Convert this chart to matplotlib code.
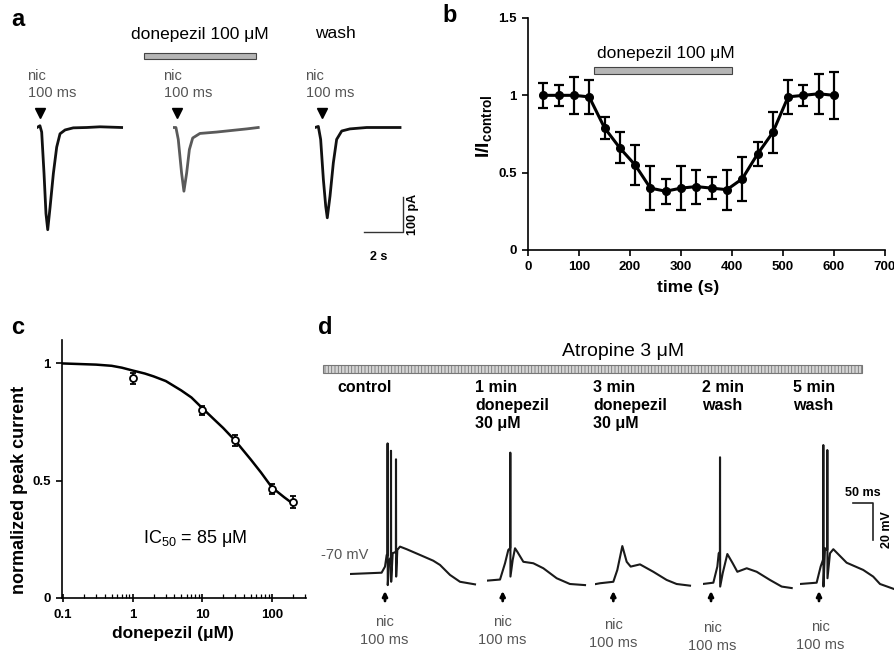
import matplotlib
matplotlib.use('Agg')
import matplotlib.pyplot as plt
import matplotlib.transforms as mtransforms
from matplotlib.patches import Rectangle

plt.rcParams['font.family'] = ['Liberation Sans', 'DejaVu Sans']
plt.rcParams['mathtext.fontset'] = 'custom'
plt.rcParams['mathtext.rm'] = 'Liberation Sans'
plt.rcParams['mathtext.bf'] = 'Liberation Sans:bold'
plt.rcParams['hatch.linewidth'] = 0.6
plt.rcParams['hatch.color'] = '#8a8a8a'

TICKFONT = ['Liberation Sans Narrow', 'Liberation Sans', 'DejaVu Sans']

# ---- panel a : nicotine-evoked currents (s, pA) ----
ctrl_a_t = [0, 0.15, 0.24, 0.36, 0.46, 0.55, 0.67, 0.84, 1.01, 1.18, 1.44, 1.86, 2.55, 3.23, 4.34]
ctrl_a_i = [0, 5, -13, -131, -246, -292, -228, -131, -56, -18, -7, -1, 0, 2, 0]
don_a_t = [0, 0.15, 0.27, 0.44, 0.56, 0.70, 0.84, 1.01, 1.38, 2.24, 3.09, 3.78, 4.37]
don_a_i = [0, 0, -34, -130, -182, -130, -63, -30, -17, -13, -8, -4, 0]
wash_a_t = [0, 0.17, 0.29, 0.43, 0.55, 0.63, 0.77, 0.94, 1.11, 1.37, 1.79, 2.65, 4.36]
wash_a_i = [0, 3, -34, -149, -225, -258, -196, -101, -34, -10, -4, 0, 0]
stim_a_s = [0.15, 0.2, 0.36]

# ---- panel b : time course ----
time_s = [30, 60, 90, 120, 150, 180, 210, 240, 270, 300,
          330, 360, 390, 420, 450, 480, 510, 540, 570, 600]
rel_current = [1.0, 1.0, 1.0, 0.99, 0.79, 0.66, 0.55, 0.40, 0.38, 0.40,
               0.41, 0.40, 0.39, 0.46, 0.62, 0.76, 0.99, 1.0, 1.01, 1.0]
rel_err = [0.08, 0.07, 0.12, 0.11, 0.07, 0.10, 0.13, 0.14, 0.08, 0.14,
           0.11, 0.07, 0.13, 0.14, 0.08, 0.13, 0.11, 0.07, 0.13, 0.15]
drug_on_s, drug_off_s = 130, 400

# ---- panel c : concentration-response ----
conc_uM = [1, 10, 30, 100, 200]
norm_peak = [0.936, 0.80, 0.672, 0.464, 0.41]
norm_err = [0.025, 0.02, 0.025, 0.02, 0.025]
fit_conc = [0.1, 0.3, 0.5, 0.7, 1, 1.5, 2, 3, 5, 7, 10, 15, 20, 30, 50, 70, 100, 150, 205]
fit_norm = [1.0, 0.995, 0.99, 0.982, 0.97, 0.957, 0.945, 0.925, 0.885, 0.855,
            0.81, 0.76, 0.725, 0.67, 0.59, 0.535, 0.472, 0.43, 0.40]

# ---- panel d : membrane potential (ms, mV) ----
ctrl_d_t = [0, 79, 87.5, 91.7, 93.7, 94, 94.4, 98.3, 102.2, 102.5, 102.9, 106.7,
            114.7, 115, 115.4, 118.3, 125, 141.7, 175, 208, 225, 250, 275, 312.5]
ctrl_d_v = [-70, -69.3, -66, -59.7, -60, 0.6, -76, -62.4, -61, -3.4, -74.2, -58.8,
            -58, -8, -71.4, -57, -55.2, -56.6, -59.7, -62.8, -65.1, -70.5, -74.2, -75.6]
don1_t = [0, 33.3, 45.8, 54, 58.7, 59, 59.4, 65, 70.8, 76.6, 91.6, 116.6, 141.6, 175, 208, 245.8]
don1_v = [-73.6, -73.0, -64.2, -57, -56, -4.4, -71.4, -62.4, -56.1, -58, -63.4, -64.2,
          -66.9, -72.3, -75.4, -76]
don3_t = [0, 12.5, 45.8, 55.8, 68.3, 79.2, 89.2, 112.5, 145.8, 179, 204, 237.5]
don3_v = [-75.5, -75, -74.2, -67.8, -54.9, -63.4, -66, -64.8, -68.8, -73.2, -75.4, -76.3]
wash2_t = [0, 26.6, 36.6, 40, 43, 43.3, 43.7, 50, 61.6, 75, 86.6, 110, 135, 168, 197.5, 222.5]
wash2_v = [-75.4, -74.7, -66, -58.8, -58, -6.9, -76.8, -69.6, -59.2, -64.2, -68.8,
           -66.9, -68.8, -73.2, -76.8, -77.6]
wash5_t = [0, 41.6, 51.6, 58, 58.3, 58.7, 62.5, 68, 68.3, 68.7, 75, 83.3, 116.6,
           158, 183, 200, 237.5]
wash5_v = [-75.4, -74.7, -66, -62, -0.3, -76.8, -56.1, -57, -3, -72.3, -58.8, -56.6,
           -63.9, -67.8, -71.4, -75.4, -78.3]
stim_d_ms = [87.5, 40, 45.8, 20.8, 47.5]
d_titles = ['control', '1 min\ndonepezil\n30 μM', '3 min\ndonepezil\n30 μM',
            '2 min\nwash', '5 min\nwash']

W, H = 895, 654
fig = plt.figure(figsize=(W / 100, H / 100), dpi=100)


def px_axes(x0, y0, x1, y1):
    return fig.add_axes([x0 / W, 1 - y1 / H, (x1 - x0) / W, (y1 - y0) / H])


def ftext(x, y, s, **kw):
    kw.setdefault('ha', 'center')
    kw.setdefault('va', 'center')
    return fig.text(x / W, 1 - y / H, s, **kw)


def fig_bar(x0, y0, x1, y1, **kw):
    r = Rectangle((x0 / W, 1 - y1 / H), (x1 - x0) / W, (y1 - y0) / H,
                  transform=fig.transFigure, **kw)
    fig.add_artist(r)


def tick_font(ax, size):
    for lbl in ax.get_xticklabels() + ax.get_yticklabels():
        lbl.set_fontfamily(TICKFONT)
        lbl.set_fontweight('bold')
        lbl.set_fontsize(size)


# panel letters
for x, y, s in [(18, 19, 'a'), (450, 15, 'b'), (18, 327, 'c'), (325, 327, 'd')]:
    ftext(x, y, s, fontsize=17, fontweight='bold')

# ================= panel a =================
px_per_s, px_per_pA = 19.5, 0.35
a_top, a_bot, a_base = 100, 240, 127.5
a_traces = [(ctrl_a_t, ctrl_a_i, 37, '#111111'),
            (don_a_t, don_a_i, 173, '#5a5a5a'),
            (wash_a_t, wash_a_i, 315, '#111111')]
for (t, i, x0, col), st in zip(a_traces, stim_a_s):
    ax = px_axes(x0, a_top, x0 + 92, a_bot)
    ax.plot(t, i, color=col, lw=2.0, solid_joinstyle='round')
    ax.set_xlim(0, 92 / px_per_s)
    ax.set_ylim(-(a_bot - a_base) / px_per_pA, (a_base - a_top) / px_per_pA)
    ax.axis('off')
    tr = mtransforms.blended_transform_factory(ax.transData, ax.transAxes)
    ax.plot([st], [(a_bot - 113) / (a_bot - a_top)], marker='v', ms=7,
            color='black', transform=tr, clip_on=False)
    ftext(x0 - 10, 76, 'nic', ha='left', fontsize=10.5, color='#555555')
    ftext(x0 - 9, 93, '100 ms', ha='left', fontsize=10.5, color='#555555')

ftext(200, 34, 'donepezil 100 μM', fontsize=12.5)
ftext(335, 34, 'wash', fontsize=12.5)
fig_bar(144, 53, 256, 59, facecolor='#b5b5b5', edgecolor='#444444', lw=0.8)

sb = px_axes(364, 197, 403, 232)
sb.plot([0, 2, 2], [0, 0, 100], color='#333333', lw=1.0, clip_on=False)
sb.set_xlim(0, 2)
sb.set_ylim(0, 100)
sb.axis('off')
ftext(379, 257, '2 s', fontsize=9, fontweight='bold', family=TICKFONT)
ftext(413, 214, '100 pA', fontsize=9, fontweight='bold', rotation=90, family=TICKFONT)

# ================= panel b =================
axb = px_axes(528, 18, 885, 250)
axb.errorbar(time_s, rel_current, yerr=rel_err, color='black', lw=2.2,
             marker='o', ms=5.5, capsize=3.5, elinewidth=1.6, capthick=1.6)
axb.add_patch(Rectangle((drug_on_s, 1.14), drug_off_s - drug_on_s, 0.045,
                        facecolor='#b5b5b5', edgecolor='#444444', lw=0.8))
axb.text((drug_on_s + drug_off_s) / 2 + 5, 1.27, 'donepezil 100 μM',
         ha='center', va='center', fontsize=12.5)
axb.set_xlim(0, 700)
axb.set_ylim(0, 1.5)
axb.set_xticks(range(0, 701, 100))
axb.set_yticks([0, 0.5, 1, 1.5])
axb.set_yticklabels(['0', '0.5', '1', '1.5'])
for s in ['top', 'right']:
    axb.spines[s].set_visible(False)
for s in ['left', 'bottom']:
    axb.spines[s].set_linewidth(1.2)
axb.tick_params(direction='out', length=4, width=1.2, pad=4)
tick_font(axb, 9.5)
axb.set_xlabel('time (s)', fontsize=12.5, fontweight='bold', va='center')
axb.xaxis.set_label_coords(0.448, -0.16)
axb.set_ylabel(r'$\mathbf{I/I}_{\mathbf{control}}$', fontsize=14, va='center')
axb.yaxis.set_label_coords(-0.12, 0.534)

# ================= panel c =================
axc = px_axes(62, 340, 306, 598)
axc.plot(fit_conc, fit_norm, color='black', lw=1.8)
axc.errorbar(conc_uM, norm_peak, yerr=norm_err, fmt='o', ms=5, mfc='white',
             mec='black', mew=1.3, ecolor='black', elinewidth=1.2, capsize=2.5)
axc.set_xscale('log')
axc.set_xlim(0.0968, 310)
axc.set_ylim(0, 1.1)
axc.set_xticks([0.1, 1, 10, 100])
axc.set_xticklabels(['0.1', '1', '10', '100'])
axc.set_yticks([0, 0.5, 1])
axc.set_yticklabels(['0', '0.5', '1'])
for s in ['top', 'right']:
    axc.spines[s].set_visible(False)
for s in ['left', 'bottom']:
    axc.spines[s].set_linewidth(1.2)
axc.tick_params(axis='y', direction='out', length=4, width=1.2, pad=4)
axc.tick_params(axis='x', which='major', direction='inout', length=6, width=1.2, pad=5)
axc.tick_params(axis='x', which='minor', direction='in', length=3, width=0.9)
tick_font(axc, 9.5)
axc.text(8.0, 0.255, 'IC$_{50}$ = 85 μM', ha='center', va='center', fontsize=13)
axc.set_xlabel('donepezil (μM)', fontsize=12.5, fontweight='bold', va='center')
axc.xaxis.set_label_coords(0.453, -0.136)
axc.set_ylabel('normalized peak current', fontsize=13, fontweight='bold', va='center')
axc.yaxis.set_label_coords(-0.176, 0.419)

# ================= panel d =================
px_per_ms, px_per_mV = 0.4, 1.85
d_top, d_bot, d_ref = 430, 605, 574   # d_ref: pixel row of -70 mV
d_traces = [(ctrl_d_t, ctrl_d_v, 350), (don1_t, don1_v, 486.7), (don3_t, don3_v, 595),
            (wash2_t, wash2_v, 702.7), (wash5_t, wash5_v, 800)]
d_title_x = [337, 475, 593, 702, 793]
d_nic_x = [384, 502, 613, 712, 820]
d_nic_y = [622, 622, 625, 628, 627]
for k, ((t, v, x0), st) in enumerate(zip(d_traces, stim_d_ms)):
    x1 = min(x0 + 130, W)
    ax = px_axes(x0, d_top, x1, d_bot)
    ax.plot(t, v, color='#1a1a1a', lw=1.5, solid_joinstyle='round')
    ax.set_xlim(0, (x1 - x0) / px_per_ms)
    ax.set_ylim(-70 - (d_bot - d_ref) / px_per_mV, -70 + (d_ref - d_top) / px_per_mV)
    ax.axis('off')
    tr = mtransforms.blended_transform_factory(ax.transData, ax.transAxes)
    ax.annotate('', xy=(st, (d_bot - 591) / (d_bot - d_top)),
                xytext=(st, (d_bot - 601) / (d_bot - d_top)),
                xycoords=tr, textcoords=tr,
                arrowprops=dict(arrowstyle='-|>', color='black', lw=2.0,
                                mutation_scale=7, shrinkA=0, shrinkB=0))
    ftext(d_title_x[k], 380, d_titles[k], ha='left', va='top', fontsize=11.5,
          fontweight='bold', linespacing=1.25)
    ftext(d_nic_x[k], d_nic_y[k], 'nic', fontsize=10.5, color='#555555')
    ftext(d_nic_x[k], d_nic_y[k] + 18, '100 ms', fontsize=10.5, color='#555555')

fig_bar(323, 365, 862, 373, facecolor='#d4d4d4', edgecolor='#777777', lw=0.8, hatch='|||||')
ftext(623, 351, 'Atropine 3 μM', fontsize=14)
ftext(368, 555, '-70 mV', ha='right', fontsize=10.5, color='#555555')

sd = px_axes(853, 503, 873, 540)
sd.plot([0, 50, 50], [20, 20, 0], color='#222222', lw=1.2, clip_on=False)
sd.set_xlim(0, 50)
sd.set_ylim(0, 20)
sd.axis('off')
ftext(863, 493, '50 ms', fontsize=9, fontweight='bold', family=TICKFONT)
ftext(887, 530, '20 mV', fontsize=9, fontweight='bold', rotation=90, family=TICKFONT)

fig.savefig('out.png', dpi=100)
